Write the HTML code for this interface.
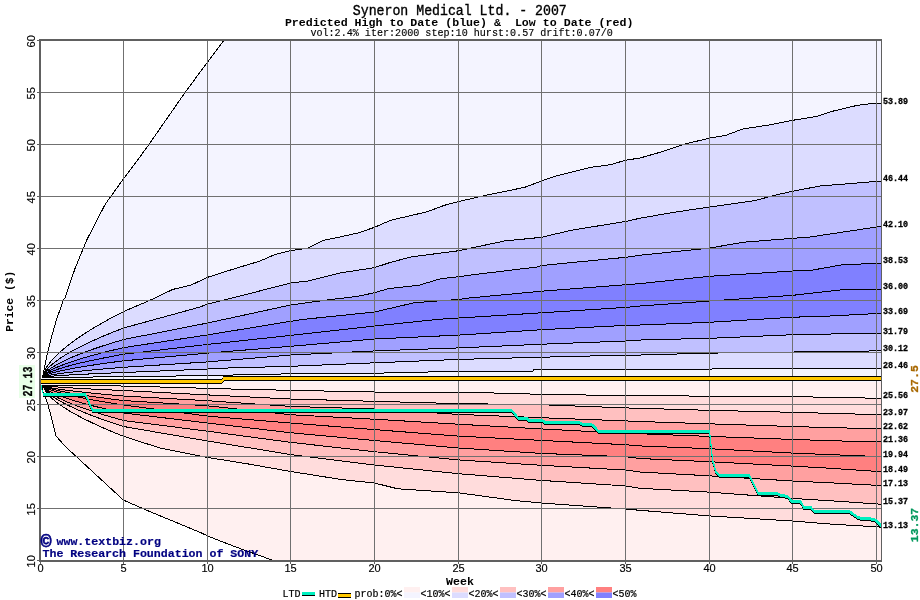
<!DOCTYPE html>
<html><head><meta charset="utf-8"><style>
html,body{margin:0;padding:0;background:#fff;}
body{width:920px;height:600px;position:relative;overflow:hidden;font-family:"Liberation Mono",monospace;}
</style></head><body>
<svg width="920" height="600" viewBox="0 0 920 600" style="position:absolute;left:0;top:0;will-change:transform">
<defs><clipPath id="pc"><rect x="41" y="41" width="840" height="519"/></clipPath></defs>
<g clip-path="url(#pc)" shape-rendering="crispEdges">
<polygon points="42.52,377.52 42.72,376.32 47.02,355.02 52.22,334.52 56.77,318.77 63.52,300.02 65.32,297.32 74.72,269.32 86.72,240.02 105.32,204.02 112.02,194.72 123.52,178.72 138.72,158.52 149.22,144.02 185.42,92.02 207.52,62.02 224.02,40.02 881.02,40.02 881.02,103.52 881.02,103.02 875.72,103.02 857.82,105.22 833.82,110.92 815.92,116.62 792.52,120.32 770.82,124.72 742.72,129.02 725.32,135.52 709.52,138.12 686.32,143.72 658.22,152.82 640.02,158.02 625.52,160.22 610.32,164.72 590.82,167.32 556.22,176.02 541.42,181.02 524.72,187.32 484.72,195.52 458.72,201.52 444.62,205.22 427.32,211.72 390.52,220.32 374.52,227.32 358.02,232.92 340.02,237.02 323.32,240.32 308.22,248.02 290.52,250.62 275.02,254.52 260.02,261.02 232.02,269.52 207.52,277.32 191.22,285.02 172.82,289.42 149.02,300.72 123.62,311.52 113.02,317.01 103.02,322.48 93.02,328.32 84.02,333.95 76.02,339.37 69.02,344.53 63.02,349.39 58.02,353.86 53.02,358.94 49.02,363.72 46.02,368.12 42.52,377.52" fill="#f4f4ff"/>
<polygon points="42.52,377.52 46.02,368.12 49.02,363.72 53.02,358.94 58.02,353.86 63.02,349.39 69.02,344.53 76.02,339.37 84.02,333.95 93.02,328.32 103.02,322.48 113.02,317.01 123.62,311.52 149.02,300.72 172.82,289.42 191.22,285.02 207.52,277.32 232.02,269.52 260.02,261.02 275.02,254.52 290.52,250.62 308.22,248.02 323.32,240.32 340.02,237.02 358.02,232.92 374.52,227.32 390.52,220.32 427.32,211.72 444.62,205.22 458.72,201.52 484.72,195.52 524.72,187.32 541.42,181.02 556.22,176.02 590.82,167.32 610.32,164.72 625.52,160.22 640.02,158.02 658.22,152.82 686.32,143.72 709.52,138.12 725.32,135.52 742.72,129.02 770.82,124.72 792.52,120.32 815.92,116.62 833.82,110.92 857.82,105.22 875.72,103.02 881.02,103.02 881.02,181.02 820.02,186.02 792.52,191.22 770.82,196.22 755.62,200.52 709.52,207.02 673.32,212.42 640.02,218.22 625.52,221.52 571.32,230.22 541.42,237.32 504.22,241.02 458.72,250.72 420.02,255.77 410.02,257.22 390.02,262.52 374.52,267.62 340.02,273.02 308.02,281.02 290.52,283.02 240.02,296.02 207.52,304.02 200.02,307.02 123.62,328.02 113.02,332.14 103.02,336.24 93.02,340.62 84.02,344.85 76.02,348.91 69.02,352.78 63.02,356.42 58.02,359.78 53.02,363.58 49.02,367.17 46.02,370.47 42.52,377.52" fill="#dcdcff"/>
<polygon points="42.52,377.52 46.02,370.47 49.02,367.17 53.02,363.58 58.02,359.78 63.02,356.42 69.02,352.78 76.02,348.91 84.02,344.85 93.02,340.62 103.02,336.24 113.02,332.14 123.62,328.02 200.02,307.02 207.52,304.02 240.02,296.02 290.52,283.02 308.02,281.02 340.02,273.02 374.52,267.62 390.02,262.52 410.02,257.22 420.02,255.77 458.72,250.72 504.22,241.02 541.42,237.32 571.32,230.22 625.52,221.52 640.02,218.22 673.32,212.42 709.52,207.02 755.62,200.52 770.82,196.22 792.52,191.22 820.02,186.02 881.02,181.02 881.02,226.32 830.02,234.02 810.02,237.02 792.72,238.32 743.32,242.22 709.32,248.12 640.02,255.22 625.52,257.32 541.42,265.52 536.72,267.02 470.02,275.12 458.72,276.72 440.32,278.82 418.62,285.32 388.32,288.62 374.52,292.72 358.02,296.22 323.32,300.52 290.52,305.02 207.52,323.02 123.62,339.52 113.02,342.68 103.02,345.83 93.02,349.19 84.02,352.44 76.02,355.56 69.02,358.53 63.02,361.32 58.02,363.90 53.02,366.82 49.02,369.57 46.02,372.11 42.52,377.52" fill="#c0c0ff"/>
<polygon points="42.52,377.52 46.02,372.11 49.02,369.57 53.02,366.82 58.02,363.90 63.02,361.32 69.02,358.53 76.02,355.56 84.02,352.44 93.02,349.19 103.02,345.83 113.02,342.68 123.62,339.52 207.52,323.02 290.52,305.02 323.32,300.52 358.02,296.22 374.52,292.72 388.32,288.62 418.62,285.32 440.32,278.82 458.72,276.72 470.02,275.12 536.72,267.02 541.42,265.52 625.52,257.32 640.02,255.22 709.32,248.12 743.32,242.22 792.72,238.32 810.02,237.02 830.02,234.02 881.02,226.32 881.02,263.02 840.82,265.02 810.02,270.52 792.72,271.02 709.32,276.32 640.02,283.62 625.52,284.72 541.42,291.22 470.02,297.92 458.72,299.42 414.32,302.72 374.52,312.02 303.82,319.32 290.62,321.32 207.52,334.92 123.62,347.62 113.02,350.11 103.02,352.59 93.02,355.23 84.02,357.78 76.02,360.24 69.02,362.58 63.02,364.77 58.02,366.80 53.02,369.10 49.02,371.27 46.02,373.26 42.52,377.52" fill="#a0a0ff"/>
<polygon points="42.52,377.52 46.02,373.26 49.02,371.27 53.02,369.10 58.02,366.80 63.02,364.77 69.02,362.58 76.02,360.24 84.02,357.78 93.02,355.23 103.02,352.59 113.02,350.11 123.62,347.62 207.52,334.92 290.62,321.32 303.82,319.32 374.52,312.02 414.32,302.72 458.72,299.42 470.02,297.92 541.42,291.22 625.52,284.72 640.02,283.62 709.32,276.32 792.72,271.02 810.02,270.52 840.82,265.02 881.02,263.02 881.02,289.02 840.82,289.92 792.72,295.32 709.32,301.02 640.02,306.02 625.52,307.42 541.42,312.82 458.72,318.02 438.12,319.32 374.52,326.02 290.62,335.42 207.52,344.42 123.62,354.22 113.02,356.16 103.02,358.09 93.02,360.15 84.02,362.14 76.02,364.05 69.02,365.87 63.02,367.59 58.02,369.17 53.02,370.96 49.02,372.65 46.02,374.20 42.52,377.52" fill="#8080ff"/>
<polygon points="42.52,377.52 46.02,374.20 49.02,372.65 53.02,370.96 58.02,369.17 63.02,367.59 69.02,365.87 76.02,364.05 84.02,362.14 93.02,360.15 103.02,358.09 113.02,356.16 123.62,354.22 207.52,344.42 290.62,335.42 374.52,326.02 438.12,319.32 458.72,318.02 541.42,312.82 625.52,307.42 640.02,306.02 709.32,301.02 792.72,295.32 840.82,289.92 881.02,289.02 881.02,313.32 830.02,316.02 792.72,317.22 709.32,322.32 640.02,325.02 625.52,325.42 541.42,329.72 458.72,335.12 374.52,339.02 290.62,346.32 207.52,353.12 123.62,360.82 113.02,362.21 103.02,363.59 93.02,365.07 84.02,366.50 76.02,367.87 69.02,369.17 63.02,370.40 58.02,371.53 53.02,372.82 49.02,374.03 46.02,375.14 42.52,377.52" fill="#8080ff"/>
<polygon points="42.52,377.52 46.02,375.14 49.02,374.03 53.02,372.82 58.02,371.53 63.02,370.40 69.02,369.17 76.02,367.87 84.02,366.50 93.02,365.07 103.02,363.59 113.02,362.21 123.62,360.82 207.52,353.12 290.62,346.32 374.52,339.02 458.72,335.12 541.42,329.72 625.52,325.42 640.02,325.02 709.32,322.32 792.72,317.22 830.02,316.02 881.02,313.32 881.02,333.42 830.02,334.02 792.72,334.72 709.32,338.32 640.02,340.02 625.52,341.02 541.42,344.22 458.72,347.92 374.52,350.92 290.62,355.02 207.52,361.92 123.62,367.32 113.02,368.17 103.02,369.01 93.02,369.92 84.02,370.79 76.02,371.62 69.02,372.42 63.02,373.17 58.02,373.86 53.02,374.65 49.02,375.39 46.02,376.07 42.52,377.52" fill="#a0a0ff"/>
<polygon points="42.52,377.52 46.02,376.07 49.02,375.39 53.02,374.65 58.02,373.86 63.02,373.17 69.02,372.42 76.02,371.62 84.02,370.79 93.02,369.92 103.02,369.01 113.02,368.17 123.62,367.32 207.52,361.92 290.62,355.02 374.52,350.92 458.72,347.92 541.42,344.22 625.52,341.02 640.02,340.02 709.32,338.32 792.72,334.72 830.02,334.02 881.02,333.42 881.02,350.82 830.02,351.62 792.72,352.02 709.32,353.12 640.02,355.02 625.52,355.12 541.42,357.22 458.72,359.42 374.52,362.82 290.62,366.32 216.02,368.32 207.52,369.02 123.62,372.52 113.02,372.94 103.02,373.35 93.02,373.79 84.02,374.22 76.02,374.63 69.02,375.02 63.02,375.39 58.02,375.73 53.02,376.11 49.02,376.47 46.02,376.81 42.52,377.52" fill="#c0c0ff"/>
<polygon points="42.52,377.52 46.02,376.81 49.02,376.47 53.02,376.11 58.02,375.73 63.02,375.39 69.02,375.02 76.02,374.63 84.02,374.22 93.02,373.79 103.02,373.35 113.02,372.94 123.62,372.52 207.52,369.02 216.02,368.32 290.62,366.32 374.52,362.82 458.72,359.42 541.42,357.22 625.52,355.12 640.02,355.02 709.32,353.12 792.72,352.02 830.02,351.62 881.02,350.82 881.02,368.02 792.72,368.52 709.32,369.02 640.02,369.52 625.52,369.22 533.42,369.82 533.02,371.32 458.72,371.32 374.52,373.22 290.62,373.82 207.52,375.52 123.62,376.82 113.02,376.88 103.02,376.94 93.02,377.00 84.02,377.06 76.02,377.12 69.02,377.17 63.02,377.22 58.02,377.27 53.02,377.32 49.02,377.37 46.02,377.42 42.52,377.52" fill="#dcdcff"/>
<polygon points="42.52,377.52 46.02,377.42 49.02,377.37 53.02,377.32 58.02,377.27 63.02,377.22 69.02,377.17 76.02,377.12 84.02,377.06 93.02,377.00 103.02,376.94 113.02,376.88 123.62,376.82 207.52,375.52 290.62,373.82 374.52,373.22 458.72,371.32 533.02,371.32 533.42,369.82 625.52,369.22 640.02,369.52 709.32,369.02 792.72,368.52 881.02,368.02 881.02,381.82 42.02,381.82" fill="#f4f4ff"/>
<polygon points="42.02,381.82 881.02,381.82 881.02,398.22 830.02,397.52 792.72,396.42 709.32,396.42 640.02,395.02 625.52,395.62 541.42,394.32 458.72,392.02 374.52,392.02 290.52,390.32 232.02,389.02 207.62,388.32 123.62,386.02 113.02,385.94 103.02,385.85 93.02,385.77 84.02,385.68 76.02,385.60 69.02,385.52 63.02,385.45 58.02,385.38 53.02,385.30 49.02,385.23 46.02,385.16 42.52,385.02" fill="#fff0f0"/>
<polygon points="42.52,385.02 46.02,385.16 49.02,385.23 53.02,385.30 58.02,385.38 63.02,385.45 69.02,385.52 76.02,385.60 84.02,385.68 93.02,385.77 103.02,385.85 113.02,385.94 123.62,386.02 207.62,388.32 232.02,389.02 290.52,390.32 374.52,392.02 458.72,392.02 541.42,394.32 625.52,395.62 640.02,395.02 709.32,396.42 792.72,396.42 830.02,397.52 881.02,398.22 881.02,414.72 830.02,413.32 792.72,412.32 709.32,410.32 640.02,408.32 625.52,407.92 541.42,404.72 458.72,403.62 374.52,401.32 290.52,399.02 207.62,394.92 123.62,390.52 113.02,390.06 103.02,389.61 93.02,389.12 84.02,388.65 76.02,388.20 69.02,387.77 63.02,387.36 58.02,386.99 53.02,386.57 49.02,386.17 46.02,385.80 42.52,385.02" fill="#ffdcdc"/>
<polygon points="42.52,385.02 46.02,385.80 49.02,386.17 53.02,386.57 58.02,386.99 63.02,387.36 69.02,387.77 76.02,388.20 84.02,388.65 93.02,389.12 103.02,389.61 113.02,390.06 123.62,390.52 207.62,394.92 290.52,399.02 374.52,401.32 458.72,403.62 541.42,404.72 625.52,407.92 640.02,408.32 709.32,410.32 792.72,412.32 830.02,413.32 881.02,414.72 881.02,428.82 830.02,427.62 792.72,426.52 709.32,423.82 640.02,421.52 625.52,420.92 541.42,417.72 458.72,414.42 374.52,409.02 290.52,406.42 207.62,400.72 123.62,396.02 113.02,395.11 103.02,394.19 93.02,393.22 84.02,392.28 76.02,391.38 69.02,390.52 63.02,389.71 58.02,388.96 53.02,388.12 49.02,387.32 46.02,386.59 42.52,385.02" fill="#ffc0c0"/>
<polygon points="42.52,385.02 46.02,386.59 49.02,387.32 53.02,388.12 58.02,388.96 63.02,389.71 69.02,390.52 76.02,391.38 84.02,392.28 93.02,393.22 103.02,394.19 113.02,395.11 123.62,396.02 207.62,400.72 290.52,406.42 374.52,409.02 458.72,414.42 541.42,417.72 625.52,420.92 640.02,421.52 709.32,423.82 792.72,426.52 830.02,427.62 881.02,428.82 881.02,441.92 830.02,440.72 792.72,439.42 709.32,436.42 640.02,433.72 625.52,433.32 541.42,428.92 458.72,424.22 374.52,419.22 290.52,414.72 207.62,405.82 123.62,400.52 113.02,399.23 103.02,397.94 93.02,396.58 84.02,395.25 76.02,393.98 69.02,392.77 63.02,391.63 58.02,390.58 53.02,389.38 49.02,388.26 46.02,387.23 42.52,385.02" fill="#ffa0a0"/>
<polygon points="42.52,385.02 46.02,387.23 49.02,388.26 53.02,389.38 58.02,390.58 63.02,391.63 69.02,392.77 76.02,393.98 84.02,395.25 93.02,396.58 103.02,397.94 113.02,399.23 123.62,400.52 207.62,405.82 290.52,414.72 374.52,419.22 458.72,424.22 541.42,428.92 625.52,433.32 640.02,433.72 709.32,436.42 792.72,439.42 830.02,440.72 881.02,441.92 881.02,456.62 830.02,454.62 792.72,453.12 709.32,448.72 640.02,445.92 625.52,444.72 541.42,440.42 458.72,436.12 374.52,429.62 290.52,423.02 207.62,416.12 123.62,405.02 113.02,403.36 103.02,401.70 93.02,399.93 84.02,398.22 76.02,396.58 69.02,395.02 63.02,393.55 58.02,392.19 53.02,390.65 49.02,389.20 46.02,387.87 42.52,385.02" fill="#ff8080"/>
<polygon points="42.52,385.02 46.02,387.87 49.02,389.20 53.02,390.65 58.02,392.19 63.02,393.55 69.02,395.02 76.02,396.58 84.02,398.22 93.02,399.93 103.02,401.70 113.02,403.36 123.62,405.02 207.62,416.12 290.52,423.02 374.52,429.62 458.72,436.12 541.42,440.42 625.52,444.72 640.02,445.92 709.32,448.72 792.72,453.12 830.02,454.62 881.02,456.62 881.02,471.72 830.02,468.22 792.72,466.12 709.32,461.72 640.02,458.52 625.52,456.72 541.42,453.42 458.72,448.02 374.52,440.52 290.52,432.72 207.62,423.02 123.62,413.02 113.02,410.69 103.02,408.37 93.02,405.89 84.02,403.50 76.02,401.20 69.02,399.02 63.02,396.96 58.02,395.06 53.02,392.90 49.02,390.88 46.02,389.01 42.52,385.02" fill="#ff8080"/>
<polygon points="42.52,385.02 46.02,389.01 49.02,390.88 53.02,392.90 58.02,395.06 63.02,396.96 69.02,399.02 76.02,401.20 84.02,403.50 93.02,405.89 103.02,408.37 113.02,410.69 123.62,413.02 207.62,423.02 290.52,432.72 374.52,440.52 458.72,448.02 541.42,453.42 625.52,456.72 640.02,458.52 709.32,461.72 792.72,466.12 830.02,468.22 881.02,471.72 881.02,485.52 830.02,482.82 792.72,481.02 709.32,475.82 640.02,472.02 625.52,470.02 541.42,465.32 458.72,459.92 374.52,451.72 290.52,442.32 207.62,431.22 123.62,420.52 113.02,417.57 103.02,414.62 93.02,411.49 84.02,408.45 76.02,405.54 69.02,402.76 63.02,400.15 58.02,397.74 53.02,395.01 49.02,392.44 46.02,390.08 42.52,385.02" fill="#ffa0a0"/>
<polygon points="42.52,385.02 46.02,390.08 49.02,392.44 53.02,395.01 58.02,397.74 63.02,400.15 69.02,402.76 76.02,405.54 84.02,408.45 93.02,411.49 103.02,414.62 113.02,417.57 123.62,420.52 207.62,431.22 290.52,442.32 374.52,451.72 458.72,459.92 541.42,465.32 625.52,470.02 640.02,472.02 709.32,475.82 792.72,481.02 830.02,482.82 881.02,485.52 881.02,504.22 830.02,500.72 792.72,498.42 709.32,492.12 640.02,488.32 625.52,485.92 541.42,480.42 458.72,473.72 374.52,465.02 290.52,454.52 207.62,441.02 123.62,426.52 113.02,423.07 103.02,419.63 93.02,415.96 84.02,412.41 76.02,409.01 69.02,405.76 63.02,402.71 58.02,399.90 53.02,396.70 49.02,393.70 46.02,390.93 42.52,385.02" fill="#ffc0c0"/>
<polygon points="42.52,385.02 46.02,390.93 49.02,393.70 53.02,396.70 58.02,399.90 63.02,402.71 69.02,405.76 76.02,409.01 84.02,412.41 93.02,415.96 103.02,419.63 113.02,423.07 123.62,426.52 207.62,441.02 290.52,454.52 374.52,465.02 458.72,473.72 541.42,480.42 625.52,485.92 640.02,488.32 709.32,492.12 792.72,498.42 830.02,500.72 881.02,504.22 881.02,527.12 830.02,524.02 792.72,521.02 709.32,515.92 640.02,510.32 625.52,509.02 541.42,503.02 515.02,500.52 458.72,492.82 397.82,488.82 374.42,483.02 341.32,479.52 290.42,471.42 248.02,463.92 207.62,457.42 160.02,448.02 123.62,436.32 113.02,432.05 103.02,427.80 93.02,423.26 84.02,418.88 76.02,414.67 69.02,410.66 63.02,406.89 58.02,403.41 53.02,399.46 49.02,395.75 46.02,392.33 42.52,385.02" fill="#ffdcdc"/>
<polygon points="42.52,385.02 46.02,392.33 49.02,395.75 53.02,399.46 58.02,403.41 63.02,406.89 69.02,410.66 76.02,414.67 84.02,418.88 93.02,423.26 103.02,427.80 113.02,432.05 123.62,436.32 160.02,448.02 207.62,457.42 248.02,463.92 290.42,471.42 341.32,479.52 374.42,483.02 397.82,488.82 458.72,492.82 515.02,500.52 541.42,503.02 625.52,509.02 640.02,510.32 709.32,515.92 792.72,521.02 830.02,524.02 881.02,527.12 881.02,527.12 881.02,560.02 272.02,560.02 236.72,547.32 209.32,536.72 200.02,532.32 146.02,510.02 123.32,500.02 64.82,446.02 56.12,436.12 49.72,411.02 46.22,399.32 42.72,391.22 42.52,385.02" fill="#fff0f0"/>
</g>
<g clip-path="url(#pc)" fill="none" stroke="#000" stroke-width="1" shape-rendering="crispEdges">
<polyline points="42.52,377.52 42.72,376.32 47.02,355.02 52.22,334.52 56.77,318.77 63.52,300.02 65.32,297.32 74.72,269.32 86.72,240.02 105.32,204.02 112.02,194.72 123.52,178.72 138.72,158.52 149.22,144.02 185.42,92.02 207.52,62.02 224.02,40.02"/>
<polyline points="42.52,377.52 46.02,368.12 49.02,363.72 53.02,358.94 58.02,353.86 63.02,349.39 69.02,344.53 76.02,339.37 84.02,333.95 93.02,328.32 103.02,322.48 113.02,317.01 123.62,311.52 149.02,300.72 172.82,289.42 191.22,285.02 207.52,277.32 232.02,269.52 260.02,261.02 275.02,254.52 290.52,250.62 308.22,248.02 323.32,240.32 340.02,237.02 358.02,232.92 374.52,227.32 390.52,220.32 427.32,211.72 444.62,205.22 458.72,201.52 484.72,195.52 524.72,187.32 541.42,181.02 556.22,176.02 590.82,167.32 610.32,164.72 625.52,160.22 640.02,158.02 658.22,152.82 686.32,143.72 709.52,138.12 725.32,135.52 742.72,129.02 770.82,124.72 792.52,120.32 815.92,116.62 833.82,110.92 857.82,105.22 875.72,103.02 881.02,103.02"/>
<polyline points="42.52,377.52 46.02,370.47 49.02,367.17 53.02,363.58 58.02,359.78 63.02,356.42 69.02,352.78 76.02,348.91 84.02,344.85 93.02,340.62 103.02,336.24 113.02,332.14 123.62,328.02 200.02,307.02 207.52,304.02 240.02,296.02 290.52,283.02 308.02,281.02 340.02,273.02 374.52,267.62 390.02,262.52 410.02,257.22 420.02,255.77 458.72,250.72 504.22,241.02 541.42,237.32 571.32,230.22 625.52,221.52 640.02,218.22 673.32,212.42 709.52,207.02 755.62,200.52 770.82,196.22 792.52,191.22 820.02,186.02 881.02,181.02"/>
<polyline points="42.52,377.52 46.02,372.11 49.02,369.57 53.02,366.82 58.02,363.90 63.02,361.32 69.02,358.53 76.02,355.56 84.02,352.44 93.02,349.19 103.02,345.83 113.02,342.68 123.62,339.52 207.52,323.02 290.52,305.02 323.32,300.52 358.02,296.22 374.52,292.72 388.32,288.62 418.62,285.32 440.32,278.82 458.72,276.72 470.02,275.12 536.72,267.02 541.42,265.52 625.52,257.32 640.02,255.22 709.32,248.12 743.32,242.22 792.72,238.32 810.02,237.02 830.02,234.02 881.02,226.32"/>
<polyline points="42.52,377.52 46.02,373.26 49.02,371.27 53.02,369.10 58.02,366.80 63.02,364.77 69.02,362.58 76.02,360.24 84.02,357.78 93.02,355.23 103.02,352.59 113.02,350.11 123.62,347.62 207.52,334.92 290.62,321.32 303.82,319.32 374.52,312.02 414.32,302.72 458.72,299.42 470.02,297.92 541.42,291.22 625.52,284.72 640.02,283.62 709.32,276.32 792.72,271.02 810.02,270.52 840.82,265.02 881.02,263.02"/>
<polyline points="42.52,377.52 46.02,374.20 49.02,372.65 53.02,370.96 58.02,369.17 63.02,367.59 69.02,365.87 76.02,364.05 84.02,362.14 93.02,360.15 103.02,358.09 113.02,356.16 123.62,354.22 207.52,344.42 290.62,335.42 374.52,326.02 438.12,319.32 458.72,318.02 541.42,312.82 625.52,307.42 640.02,306.02 709.32,301.02 792.72,295.32 840.82,289.92 881.02,289.02"/>
<polyline points="42.52,377.52 46.02,375.14 49.02,374.03 53.02,372.82 58.02,371.53 63.02,370.40 69.02,369.17 76.02,367.87 84.02,366.50 93.02,365.07 103.02,363.59 113.02,362.21 123.62,360.82 207.52,353.12 290.62,346.32 374.52,339.02 458.72,335.12 541.42,329.72 625.52,325.42 640.02,325.02 709.32,322.32 792.72,317.22 830.02,316.02 881.02,313.32"/>
<polyline points="42.52,377.52 46.02,376.07 49.02,375.39 53.02,374.65 58.02,373.86 63.02,373.17 69.02,372.42 76.02,371.62 84.02,370.79 93.02,369.92 103.02,369.01 113.02,368.17 123.62,367.32 207.52,361.92 290.62,355.02 374.52,350.92 458.72,347.92 541.42,344.22 625.52,341.02 640.02,340.02 709.32,338.32 792.72,334.72 830.02,334.02 881.02,333.42"/>
<polyline points="42.52,377.52 46.02,376.81 49.02,376.47 53.02,376.11 58.02,375.73 63.02,375.39 69.02,375.02 76.02,374.63 84.02,374.22 93.02,373.79 103.02,373.35 113.02,372.94 123.62,372.52 207.52,369.02 216.02,368.32 290.62,366.32 374.52,362.82 458.72,359.42 541.42,357.22 625.52,355.12 640.02,355.02 709.32,353.12 792.72,352.02 830.02,351.62 881.02,350.82"/>
<polyline points="42.52,377.52 46.02,377.42 49.02,377.37 53.02,377.32 58.02,377.27 63.02,377.22 69.02,377.17 76.02,377.12 84.02,377.06 93.02,377.00 103.02,376.94 113.02,376.88 123.62,376.82 207.52,375.52 290.62,373.82 374.52,373.22 458.72,371.32 533.02,371.32 533.42,369.82 625.52,369.22 640.02,369.52 709.32,369.02 792.72,368.52 881.02,368.02"/>
<polyline points="42.52,385.02 46.02,385.16 49.02,385.23 53.02,385.30 58.02,385.38 63.02,385.45 69.02,385.52 76.02,385.60 84.02,385.68 93.02,385.77 103.02,385.85 113.02,385.94 123.62,386.02 207.62,388.32 232.02,389.02 290.52,390.32 374.52,392.02 458.72,392.02 541.42,394.32 625.52,395.62 640.02,395.02 709.32,396.42 792.72,396.42 830.02,397.52 881.02,398.22"/>
<polyline points="42.52,385.02 46.02,385.80 49.02,386.17 53.02,386.57 58.02,386.99 63.02,387.36 69.02,387.77 76.02,388.20 84.02,388.65 93.02,389.12 103.02,389.61 113.02,390.06 123.62,390.52 207.62,394.92 290.52,399.02 374.52,401.32 458.72,403.62 541.42,404.72 625.52,407.92 640.02,408.32 709.32,410.32 792.72,412.32 830.02,413.32 881.02,414.72"/>
<polyline points="42.52,385.02 46.02,386.59 49.02,387.32 53.02,388.12 58.02,388.96 63.02,389.71 69.02,390.52 76.02,391.38 84.02,392.28 93.02,393.22 103.02,394.19 113.02,395.11 123.62,396.02 207.62,400.72 290.52,406.42 374.52,409.02 458.72,414.42 541.42,417.72 625.52,420.92 640.02,421.52 709.32,423.82 792.72,426.52 830.02,427.62 881.02,428.82"/>
<polyline points="42.52,385.02 46.02,387.23 49.02,388.26 53.02,389.38 58.02,390.58 63.02,391.63 69.02,392.77 76.02,393.98 84.02,395.25 93.02,396.58 103.02,397.94 113.02,399.23 123.62,400.52 207.62,405.82 290.52,414.72 374.52,419.22 458.72,424.22 541.42,428.92 625.52,433.32 640.02,433.72 709.32,436.42 792.72,439.42 830.02,440.72 881.02,441.92"/>
<polyline points="42.52,385.02 46.02,387.87 49.02,389.20 53.02,390.65 58.02,392.19 63.02,393.55 69.02,395.02 76.02,396.58 84.02,398.22 93.02,399.93 103.02,401.70 113.02,403.36 123.62,405.02 207.62,416.12 290.52,423.02 374.52,429.62 458.72,436.12 541.42,440.42 625.52,444.72 640.02,445.92 709.32,448.72 792.72,453.12 830.02,454.62 881.02,456.62"/>
<polyline points="42.52,385.02 46.02,389.01 49.02,390.88 53.02,392.90 58.02,395.06 63.02,396.96 69.02,399.02 76.02,401.20 84.02,403.50 93.02,405.89 103.02,408.37 113.02,410.69 123.62,413.02 207.62,423.02 290.52,432.72 374.52,440.52 458.72,448.02 541.42,453.42 625.52,456.72 640.02,458.52 709.32,461.72 792.72,466.12 830.02,468.22 881.02,471.72"/>
<polyline points="42.52,385.02 46.02,390.08 49.02,392.44 53.02,395.01 58.02,397.74 63.02,400.15 69.02,402.76 76.02,405.54 84.02,408.45 93.02,411.49 103.02,414.62 113.02,417.57 123.62,420.52 207.62,431.22 290.52,442.32 374.52,451.72 458.72,459.92 541.42,465.32 625.52,470.02 640.02,472.02 709.32,475.82 792.72,481.02 830.02,482.82 881.02,485.52"/>
<polyline points="42.52,385.02 46.02,390.93 49.02,393.70 53.02,396.70 58.02,399.90 63.02,402.71 69.02,405.76 76.02,409.01 84.02,412.41 93.02,415.96 103.02,419.63 113.02,423.07 123.62,426.52 207.62,441.02 290.52,454.52 374.52,465.02 458.72,473.72 541.42,480.42 625.52,485.92 640.02,488.32 709.32,492.12 792.72,498.42 830.02,500.72 881.02,504.22"/>
<polyline points="42.52,385.02 46.02,392.33 49.02,395.75 53.02,399.46 58.02,403.41 63.02,406.89 69.02,410.66 76.02,414.67 84.02,418.88 93.02,423.26 103.02,427.80 113.02,432.05 123.62,436.32 160.02,448.02 207.62,457.42 248.02,463.92 290.42,471.42 341.32,479.52 374.42,483.02 397.82,488.82 458.72,492.82 515.02,500.52 541.42,503.02 625.52,509.02 640.02,510.32 709.32,515.92 792.72,521.02 830.02,524.02 881.02,527.12"/>
<polyline points="42.52,385.02 42.72,391.22 46.22,399.32 49.72,411.02 56.12,436.12 64.82,446.02 123.32,500.02 146.02,510.02 200.02,532.32 209.32,536.72 236.72,547.32 272.02,560.02"/>
</g>
<g fill="#707070" shape-rendering="crispEdges">
<rect x="123" y="41" width="1" height="519"/>
<rect x="207" y="41" width="1" height="519"/>
<rect x="290" y="41" width="1" height="519"/>
<rect x="374" y="41" width="1" height="519"/>
<rect x="458" y="41" width="1" height="519"/>
<rect x="541" y="41" width="1" height="519"/>
<rect x="625" y="41" width="1" height="519"/>
<rect x="709" y="41" width="1" height="519"/>
<rect x="792" y="41" width="1" height="519"/>
<rect x="876" y="41" width="1" height="519"/>
<rect x="41" y="92" width="840" height="1"/>
<rect x="41" y="144" width="840" height="1"/>
<rect x="41" y="196" width="840" height="1"/>
<rect x="41" y="248" width="840" height="1"/>
<rect x="41" y="300" width="840" height="1"/>
<rect x="41" y="352" width="840" height="1"/>
<rect x="41" y="404" width="840" height="1"/>
<rect x="41" y="456" width="840" height="1"/>
<rect x="41" y="508" width="840" height="1"/>
</g>
<g clip-path="url(#pc)" fill="none" shape-rendering="crispEdges">
<polyline points="41.02,379.52 221.62,379.52 224.02,376.52 881.02,376.52" stroke="#000" stroke-width="1"/>
<polyline points="41.02,383.52 221.62,383.52 224.02,380.52 881.02,380.52" stroke="#000" stroke-width="1"/>
<polyline points="41.02,380.52 221.62,380.52 224.02,377.52 881.02,377.52" stroke="#ffc800" stroke-width="1"/>
<polyline points="41.02,381.52 221.62,381.52 224.02,378.52 881.02,378.52" stroke="#ffc800" stroke-width="1"/>
<polyline points="41.02,382.52 221.62,382.52 224.02,379.52 881.02,379.52" stroke="#ffc800" stroke-width="1"/>
<polyline points="42.52,396.52 85.52,396.52 92.52,412.52 511.72,412.52 518.22,420.12 526.92,420.12 529.12,422.52 542.02,422.52 545.32,424.42 578.92,424.42 582.12,426.22 590.82,426.22 594.02,428.32 598.42,433.42 709.32,433.42 710.42,441.02 712.62,462.72 715.82,473.52 719.12,477.42 749.42,477.42 758.12,495.22 776.52,495.22 780.82,497.32 787.32,498.42 791.62,503.22 800.32,503.22 803.62,509.22 811.12,509.72 814.42,513.42 849.22,513.42 858.42,519.92 868.32,520.42 875.92,522.22 881.02,527.52" stroke="#000" stroke-width="1"/>
<polyline points="42.52,393.52 85.52,393.52 92.52,409.52 511.72,409.52 518.22,417.12 526.92,417.12 529.12,419.52 542.02,419.52 545.32,421.42 578.92,421.42 582.12,423.22 590.82,423.22 594.02,425.32 598.42,430.42 709.32,430.42 710.42,438.02 712.62,459.72 715.82,470.52 719.12,474.42 749.42,474.42 758.12,492.22 776.52,492.22 780.82,494.32 787.32,495.42 791.62,500.22 800.32,500.22 803.62,506.22 811.12,506.72 814.42,510.42 849.22,510.42 858.42,516.92 868.32,517.42 875.92,519.22 881.02,524.52" stroke="#00f0c0" stroke-width="1"/>
<polyline points="42.52,394.52 85.52,394.52 92.52,410.52 511.72,410.52 518.22,418.12 526.92,418.12 529.12,420.52 542.02,420.52 545.32,422.42 578.92,422.42 582.12,424.22 590.82,424.22 594.02,426.32 598.42,431.42 709.32,431.42 710.42,439.02 712.62,460.72 715.82,471.52 719.12,475.42 749.42,475.42 758.12,493.22 776.52,493.22 780.82,495.32 787.32,496.42 791.62,501.22 800.32,501.22 803.62,507.22 811.12,507.72 814.42,511.42 849.22,511.42 858.42,517.92 868.32,518.42 875.92,520.22 881.02,525.52" stroke="#00f0c0" stroke-width="1"/>
<polyline points="42.52,395.52 85.52,395.52 92.52,411.52 511.72,411.52 518.22,419.12 526.92,419.12 529.12,421.52 542.02,421.52 545.32,423.42 578.92,423.42 582.12,425.22 590.82,425.22 594.02,427.32 598.42,432.42 709.32,432.42 710.42,440.02 712.62,461.72 715.82,472.52 719.12,476.42 749.42,476.42 758.12,494.22 776.52,494.22 780.82,496.32 787.32,497.42 791.62,502.22 800.32,502.22 803.62,508.22 811.12,508.72 814.42,512.42 849.22,512.42 858.42,518.92 868.32,519.42 875.92,521.22 881.02,526.52" stroke="#00f0c0" stroke-width="1"/>
<polyline points="40.5,382 42.5,393" stroke="#00f0c0" stroke-width="1"/>
</g>
<g fill="#606060" shape-rendering="crispEdges">
<rect x="39" y="39" width="843" height="2"/>
<rect x="39" y="39" width="2" height="523"/>
<rect x="39" y="560" width="843" height="2"/>
<rect x="881" y="39" width="1" height="523"/>
<rect x="37" y="40" width="2" height="1"/>
<rect x="37" y="92" width="2" height="1"/>
<rect x="37" y="144" width="2" height="1"/>
<rect x="37" y="196" width="2" height="1"/>
<rect x="37" y="248" width="2" height="1"/>
<rect x="37" y="300" width="2" height="1"/>
<rect x="37" y="352" width="2" height="1"/>
<rect x="37" y="404" width="2" height="1"/>
<rect x="37" y="456" width="2" height="1"/>
<rect x="37" y="508" width="2" height="1"/>
<rect x="37" y="560" width="2" height="1"/>
<rect x="40" y="562" width="1" height="2"/>
<rect x="123" y="562" width="1" height="2"/>
<rect x="207" y="562" width="1" height="2"/>
<rect x="290" y="562" width="1" height="2"/>
<rect x="374" y="562" width="1" height="2"/>
<rect x="458" y="562" width="1" height="2"/>
<rect x="541" y="562" width="1" height="2"/>
<rect x="625" y="562" width="1" height="2"/>
<rect x="709" y="562" width="1" height="2"/>
<rect x="792" y="562" width="1" height="2"/>
<rect x="876" y="562" width="1" height="2"/>
</g>
<text x="352.8" y="14.7" font-family="Liberation Mono, monospace" font-size="14" fill="#000" stroke="#000" stroke-width="0.35" textLength="214" lengthAdjust="spacingAndGlyphs">Syneron Medical Ltd. - 2007</text>
<text x="284.9" y="25.5" font-family="Liberation Mono, monospace" font-size="11.8" font-weight="bold" fill="#000" xml:space="preserve" textLength="348.5" lengthAdjust="spacingAndGlyphs">Predicted High to Date (blue) &amp;  Low to Date (red)</text>
<text x="310.4" y="35.9" font-family="Liberation Mono, monospace" font-size="10.6" fill="#000" stroke="#000" stroke-width="0.15" textLength="302.5" lengthAdjust="spacingAndGlyphs">vol:2.4% iter:2000 step:10 hurst:0.57 drift:0.07/0</text>
<text transform="translate(35,41.3) rotate(-90)" text-anchor="middle" font-family="Liberation Sans, sans-serif" font-size="11" fill="#000" stroke="#000" stroke-width="0.15">60</text>
<text transform="translate(35,93.3) rotate(-90)" text-anchor="middle" font-family="Liberation Sans, sans-serif" font-size="11" fill="#000" stroke="#000" stroke-width="0.15">55</text>
<text transform="translate(35,145.3) rotate(-90)" text-anchor="middle" font-family="Liberation Sans, sans-serif" font-size="11" fill="#000" stroke="#000" stroke-width="0.15">50</text>
<text transform="translate(35,197.3) rotate(-90)" text-anchor="middle" font-family="Liberation Sans, sans-serif" font-size="11" fill="#000" stroke="#000" stroke-width="0.15">45</text>
<text transform="translate(35,249.3) rotate(-90)" text-anchor="middle" font-family="Liberation Sans, sans-serif" font-size="11" fill="#000" stroke="#000" stroke-width="0.15">40</text>
<text transform="translate(35,301.3) rotate(-90)" text-anchor="middle" font-family="Liberation Sans, sans-serif" font-size="11" fill="#000" stroke="#000" stroke-width="0.15">35</text>
<text transform="translate(35,353.3) rotate(-90)" text-anchor="middle" font-family="Liberation Sans, sans-serif" font-size="11" fill="#000" stroke="#000" stroke-width="0.15">30</text>
<text transform="translate(35,405.3) rotate(-90)" text-anchor="middle" font-family="Liberation Sans, sans-serif" font-size="11" fill="#000" stroke="#000" stroke-width="0.15">25</text>
<text transform="translate(35,457.3) rotate(-90)" text-anchor="middle" font-family="Liberation Sans, sans-serif" font-size="11" fill="#000" stroke="#000" stroke-width="0.15">20</text>
<text transform="translate(35,509.3) rotate(-90)" text-anchor="middle" font-family="Liberation Sans, sans-serif" font-size="11" fill="#000" stroke="#000" stroke-width="0.15">15</text>
<text transform="translate(35,561.3) rotate(-90)" text-anchor="middle" font-family="Liberation Sans, sans-serif" font-size="11" fill="#000" stroke="#000" stroke-width="0.15">10</text>
<text transform="translate(13.3,301.3) rotate(-90)" text-anchor="middle" font-family="Liberation Mono, monospace" font-size="11.3" font-weight="bold" fill="#000">Price ($)</text>
<rect x="19" y="365" width="16" height="33" fill="#e8ffe8"/>
<text transform="translate(31.5,381.5) rotate(-90)" text-anchor="middle" font-family="Liberation Mono, monospace" font-size="12.5" font-weight="bold" fill="#000" stroke="#000" stroke-width="0.3" textLength="30" lengthAdjust="spacingAndGlyphs">27.13</text>
<text x="40.5" y="571.8" text-anchor="middle" font-family="Liberation Sans, sans-serif" font-size="11" fill="#000" stroke="#000" stroke-width="0.15">0</text>
<text x="123.5" y="571.8" text-anchor="middle" font-family="Liberation Sans, sans-serif" font-size="11" fill="#000" stroke="#000" stroke-width="0.15">5</text>
<text x="207.5" y="571.8" text-anchor="middle" font-family="Liberation Sans, sans-serif" font-size="11" fill="#000" stroke="#000" stroke-width="0.15">10</text>
<text x="290.5" y="571.8" text-anchor="middle" font-family="Liberation Sans, sans-serif" font-size="11" fill="#000" stroke="#000" stroke-width="0.15">15</text>
<text x="374.5" y="571.8" text-anchor="middle" font-family="Liberation Sans, sans-serif" font-size="11" fill="#000" stroke="#000" stroke-width="0.15">20</text>
<text x="458.5" y="571.8" text-anchor="middle" font-family="Liberation Sans, sans-serif" font-size="11" fill="#000" stroke="#000" stroke-width="0.15">25</text>
<text x="541.5" y="571.8" text-anchor="middle" font-family="Liberation Sans, sans-serif" font-size="11" fill="#000" stroke="#000" stroke-width="0.15">30</text>
<text x="625.5" y="571.8" text-anchor="middle" font-family="Liberation Sans, sans-serif" font-size="11" fill="#000" stroke="#000" stroke-width="0.15">35</text>
<text x="709.5" y="571.8" text-anchor="middle" font-family="Liberation Sans, sans-serif" font-size="11" fill="#000" stroke="#000" stroke-width="0.15">40</text>
<text x="792.5" y="571.8" text-anchor="middle" font-family="Liberation Sans, sans-serif" font-size="11" fill="#000" stroke="#000" stroke-width="0.15">45</text>
<text x="876.5" y="571.8" text-anchor="middle" font-family="Liberation Sans, sans-serif" font-size="11" fill="#000" stroke="#000" stroke-width="0.15">50</text>
<text x="460" y="585" text-anchor="middle" font-family="Liberation Mono, monospace" font-size="11.6" font-weight="bold" fill="#000">Week</text>
<text x="883" y="103.7" font-family="Liberation Mono, monospace" font-size="8.4" font-weight="bold" fill="#000" stroke="#000" stroke-width="0.3">53.89</text>
<text x="883" y="181.2" font-family="Liberation Mono, monospace" font-size="8.4" font-weight="bold" fill="#000" stroke="#000" stroke-width="0.3">46.44</text>
<text x="883" y="226.5" font-family="Liberation Mono, monospace" font-size="8.4" font-weight="bold" fill="#000" stroke="#000" stroke-width="0.3">42.10</text>
<text x="883" y="263.2" font-family="Liberation Mono, monospace" font-size="8.4" font-weight="bold" fill="#000" stroke="#000" stroke-width="0.3">38.53</text>
<text x="883" y="289.2" font-family="Liberation Mono, monospace" font-size="8.4" font-weight="bold" fill="#000" stroke="#000" stroke-width="0.3">36.00</text>
<text x="883" y="313.5" font-family="Liberation Mono, monospace" font-size="8.4" font-weight="bold" fill="#000" stroke="#000" stroke-width="0.3">33.69</text>
<text x="883" y="333.6" font-family="Liberation Mono, monospace" font-size="8.4" font-weight="bold" fill="#000" stroke="#000" stroke-width="0.3">31.79</text>
<text x="883" y="351.0" font-family="Liberation Mono, monospace" font-size="8.4" font-weight="bold" fill="#000" stroke="#000" stroke-width="0.3">30.12</text>
<text x="883" y="368.2" font-family="Liberation Mono, monospace" font-size="8.4" font-weight="bold" fill="#000" stroke="#000" stroke-width="0.3">28.46</text>
<text x="883" y="398.4" font-family="Liberation Mono, monospace" font-size="8.4" font-weight="bold" fill="#000" stroke="#000" stroke-width="0.3">25.56</text>
<text x="883" y="414.9" font-family="Liberation Mono, monospace" font-size="8.4" font-weight="bold" fill="#000" stroke="#000" stroke-width="0.3">23.97</text>
<text x="883" y="429.0" font-family="Liberation Mono, monospace" font-size="8.4" font-weight="bold" fill="#000" stroke="#000" stroke-width="0.3">22.62</text>
<text x="883" y="442.1" font-family="Liberation Mono, monospace" font-size="8.4" font-weight="bold" fill="#000" stroke="#000" stroke-width="0.3">21.36</text>
<text x="883" y="456.8" font-family="Liberation Mono, monospace" font-size="8.4" font-weight="bold" fill="#000" stroke="#000" stroke-width="0.3">19.94</text>
<text x="883" y="471.9" font-family="Liberation Mono, monospace" font-size="8.4" font-weight="bold" fill="#000" stroke="#000" stroke-width="0.3">18.49</text>
<text x="883" y="485.7" font-family="Liberation Mono, monospace" font-size="8.4" font-weight="bold" fill="#000" stroke="#000" stroke-width="0.3">17.13</text>
<text x="883" y="504.4" font-family="Liberation Mono, monospace" font-size="8.4" font-weight="bold" fill="#000" stroke="#000" stroke-width="0.3">15.37</text>
<text x="883" y="527.6" font-family="Liberation Mono, monospace" font-size="8.4" font-weight="bold" fill="#000" stroke="#000" stroke-width="0.3">13.13</text>
<text transform="translate(918,379) rotate(-90)" text-anchor="middle" font-family="Liberation Mono, monospace" font-size="11.5" font-weight="bold" fill="#a86800" stroke="#a86800" stroke-width="0.3">27.5</text>
<text transform="translate(918,525) rotate(-90)" text-anchor="middle" font-family="Liberation Mono, monospace" font-size="11.5" font-weight="bold" fill="#00985c" stroke="#00985c" stroke-width="0.3">13.37</text>
<text x="40.5" y="547" font-family="Liberation Mono, monospace" font-size="18.5" font-weight="bold" fill="#000080" stroke="#000080" stroke-width="0.6">©</text>
<text x="56.5" y="545" font-family="Liberation Mono, monospace" font-size="11.6" font-weight="bold" fill="#000080" stroke="#000080" stroke-width="0.2">www.textbiz.org</text>
<text x="42.5" y="557.4" font-family="Liberation Mono, monospace" font-size="11.6" font-weight="bold" fill="#000080" stroke="#000080" stroke-width="0.2">The Research Foundation of SONY</text>
<text x="282.5" y="597.4" font-family="Liberation Mono, monospace" font-size="10" fill="#000" stroke="#000" stroke-width="0.2">LTD</text>
<rect x="302" y="592" width="13" height="3" fill="#00f0c0"/><rect x="302" y="595" width="13" height="1" fill="#000"/>
<text x="319" y="597.4" font-family="Liberation Mono, monospace" font-size="10" fill="#000" stroke="#000" stroke-width="0.2">HTD</text>
<rect x="338" y="593" width="13" height="5" fill="#000"/><rect x="338" y="594" width="13" height="3" fill="#ffc800"/>
<text x="354.5" y="597.4" font-family="Liberation Mono, monospace" font-size="10" fill="#000" stroke="#000" stroke-width="0.2">prob:0%&lt;</text>
<rect x="404" y="587" width="16" height="5.5" fill="#fff0f0"/><rect x="404" y="592.5" width="16" height="5.5" fill="#f4f4ff"/>
<text x="420.5" y="597.4" font-family="Liberation Mono, monospace" font-size="10" fill="#000" stroke="#000" stroke-width="0.2">&lt;10%&lt;</text>
<rect x="452" y="587" width="16" height="5.5" fill="#ffdcdc"/><rect x="452" y="592.5" width="16" height="5.5" fill="#dcdcff"/>
<text x="468.5" y="597.4" font-family="Liberation Mono, monospace" font-size="10" fill="#000" stroke="#000" stroke-width="0.2">&lt;20%&lt;</text>
<rect x="500" y="587" width="16" height="5.5" fill="#ffc0c0"/><rect x="500" y="592.5" width="16" height="5.5" fill="#c0c0ff"/>
<text x="516.5" y="597.4" font-family="Liberation Mono, monospace" font-size="10" fill="#000" stroke="#000" stroke-width="0.2">&lt;30%&lt;</text>
<rect x="548" y="587" width="16" height="5.5" fill="#ffa0a0"/><rect x="548" y="592.5" width="16" height="5.5" fill="#a0a0ff"/>
<text x="564.5" y="597.4" font-family="Liberation Mono, monospace" font-size="10" fill="#000" stroke="#000" stroke-width="0.2">&lt;40%&lt;</text>
<rect x="596" y="587" width="16" height="5.5" fill="#ff8080"/><rect x="596" y="592.5" width="16" height="5.5" fill="#8080ff"/>
<text x="612.5" y="597.4" font-family="Liberation Mono, monospace" font-size="10" fill="#000" stroke="#000" stroke-width="0.2">&lt;50%</text>
</svg>
</body></html>
